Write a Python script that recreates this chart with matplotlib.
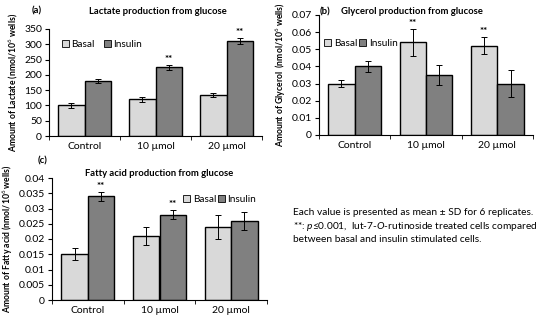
import matplotlib
matplotlib.use("Agg")
import matplotlib.pyplot as plt
from matplotlib.patches import Patch
import numpy as np

plt.rcParams['font.family'] = ['Lato', 'DejaVu Sans']
plt.rcParams['mathtext.fontset'] = 'custom'
plt.rcParams['mathtext.rm'] = 'Lato'
plt.rcParams['mathtext.it'] = 'Lato:italic'
plt.rcParams['mathtext.bf'] = 'Lato:bold'

groups = ['Control', '10 µmol', '20 µmol']

lac_basal = [100, 120, 135]
lac_basal_sd = [8, 8, 7]
lac_ins = [180, 225, 310]
lac_ins_sd = [7, 8, 10]

gly_basal = [0.030, 0.054, 0.052]
gly_basal_sd = [0.002, 0.008, 0.005]
gly_ins = [0.040, 0.035, 0.030]
gly_ins_sd = [0.003, 0.006, 0.008]

fa_basal = [0.015, 0.021, 0.024]
fa_basal_sd = [0.002, 0.003, 0.004]
fa_ins = [0.034, 0.028, 0.026]
fa_ins_sd = [0.0015, 0.0015, 0.003]

c_basal = '#d9d9d9'
c_ins = '#808080'
W, H = 550, 322
fig = plt.figure(figsize=(5.5, 3.22), dpi=100)


def axes_px(l, t, r, b):
    return fig.add_axes([l / W, 1 - b / H, (r - l) / W, (b - t) / H])


def panel(ax, basal, bsd, ins, isd, ymax, step, stars_b, stars_i, fmt):
    x = np.arange(len(groups))
    w = 0.37
    kw = dict(edgecolor='black', linewidth=1.0, zorder=2,
              error_kw=dict(elinewidth=0.7, capsize=2, capthick=0.7, ecolor='black'))
    ax.bar(x - w / 2, basal, w, yerr=bsd, color=c_basal, **kw)
    ax.bar(x + w / 2, ins, w, yerr=isd, color=c_ins, **kw)
    for i in range(len(groups)):
        if stars_b[i]:
            ax.text(x[i] - w / 2, basal[i] + bsd[i] + ymax * 0.01, '**',
                    ha='center', va='bottom', fontsize=7, fontweight='bold')
        if stars_i[i]:
            ax.text(x[i] + w / 2, ins[i] + isd[i] + ymax * 0.01, '**',
                    ha='center', va='bottom', fontsize=7, fontweight='bold')
    ax.set_xlim(-0.5, 2.5)
    ax.set_ylim(0, ymax)
    ax.set_yticks(np.arange(0, ymax + step / 2, step))
    ax.set_yticklabels([fmt(v) for v in np.arange(0, ymax + step / 2, step)])
    ax.set_xticks(x)
    ax.set_xticklabels(groups)
    ax.set_xticks([-0.5, 0.5, 1.5, 2.5], minor=True)
    ax.tick_params(axis='x', which='major', length=0, labelsize=7.5, pad=4)
    ax.tick_params(axis='x', which='minor', length=3, direction='out')
    ax.tick_params(axis='y', labelsize=7.5, length=3, pad=2)
    for s in ['top', 'right']:
        ax.spines[s].set_visible(False)
    ax.spines['left'].set_linewidth(0.8)
    ax.spines['bottom'].set_linewidth(0.8)


def leg(ax, loc, gap):
    h = [Patch(facecolor=c_basal, edgecolor='black', linewidth=0.6, label='Basal'),
         Patch(facecolor=c_ins, edgecolor='black', linewidth=0.6, label='Insulin')]
    ax.legend(handles=h, loc='upper left', bbox_to_anchor=loc, ncol=2, frameon=False,
              fontsize=7.2, handlelength=0.7, handleheight=0.7, handletextpad=0.25,
              columnspacing=gap, borderpad=0, borderaxespad=0)


fmt_int = lambda v: '%d' % v
fmt_g = lambda v: ('%g' % round(v, 4))

ylkw = dict(fontsize=6.2, fontweight='bold', labelpad=3)

ax1 = axes_px(49, 29, 262, 136)
panel(ax1, lac_basal, lac_basal_sd, lac_ins, lac_ins_sd, 350, 50,
      [0, 0, 0], [0, 1, 1], fmt_int)
leg(ax1, (0.06, 0.9), 0.9)
ax1.set_ylabel('Amount of Lactate (nmol/10$^6$ wells)', **ylkw)

ax2 = axes_px(319, 15, 533, 135)
panel(ax2, gly_basal, gly_basal_sd, gly_ins, gly_ins_sd, 0.07, 0.01,
      [0, 1, 1], [0, 0, 0], fmt_g)
leg(ax2, (0.025, 0.8), 0.2)
ax2.set_ylabel('Amount of Glycerol  (nmol/10$^6$ wells)', **ylkw)

ax3 = axes_px(52, 178, 267, 300)
panel(ax3, fa_basal, fa_basal_sd, fa_ins, fa_ins_sd, 0.04, 0.005,
      [0, 0, 0], [1, 1, 0], fmt_g)
leg(ax3, (0.61, 0.86), 0.2)
ax3.set_ylabel('Amount of Fatty acid (nmol/10$^6$ wells)', **ylkw)

tkw = dict(fontsize=6.8, fontweight='bold', ha='center', va='center')
fig.text(158 / W, 1 - 11 / H, 'Lactate production from glucose', **tkw)
fig.text(412 / W, 1 - 11 / H, 'Glycerol production from glucose', **tkw)
fig.text(159 / W, 1 - 174 / H, 'Fatty acid production from glucose', **tkw)
fig.text(37 / W, 1 - 11 / H, '(a)', **tkw)
fig.text(325 / W, 1 - 12 / H, '(b)', **tkw)
fig.text(43 / W, 1 - 161 / H, '(c)', **tkw)

note = ('Each value is presented as mean ± SD for 6 replicates.\n'
        '**: $p$≤0.001,  lut-7-$O$-rutinoside treated cells compared\n'
        'between basal and insulin stimulated cells.')
fig.text(293 / W, 1 - 208 / H, note, fontsize=7.3, ha='left', va='top', linespacing=1.3)

fig.savefig('out.png', dpi=100)
